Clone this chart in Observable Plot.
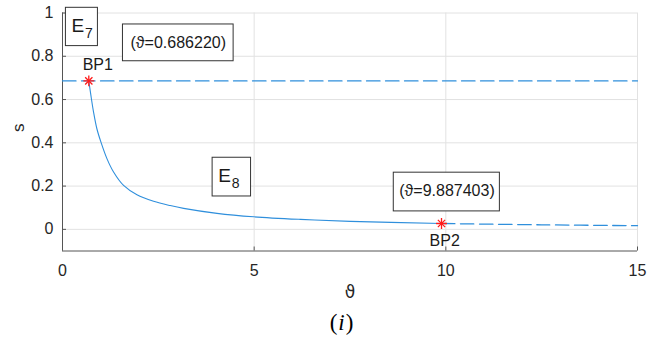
<!DOCTYPE html>
<html>
<head>
<meta charset="utf-8">
<script src="https://cdn.jsdelivr.net/npm/d3@7"></script>
<script src="https://cdn.jsdelivr.net/npm/@observablehq/plot@0.6"></script>
<style>
  body { margin: 0; background: #fff; }
  #wrap { position: relative; width: 654px; height: 349px; overflow: hidden; }
  #cap { position: absolute; left: 0; top: 310px; width: 684px; text-align: center;
         font: 23px "Liberation Serif", "DejaVu Serif", serif; letter-spacing: 1px; color: #000; }
</style>
</head>
<body>
<div id="wrap"><div id="chart"></div><div id="cap">(<i>i</i>)</div></div>
<script>
// ---- data ----
const xDomain = [0, 15];
const yDomain = [-0.1, 1];
const xTicks = [0, 5, 10, 15];
const yTicks = [0, 0.2, 0.4, 0.6, 0.8, 1];

// branch (solid) from BP1 to BP2
const solidTheta = [0.68622, 0.741, 0.810, 0.897, 1.003, 1.159, 1.332, 1.593, 1.942, 2.376, 2.81, 3.16, 4.03, 4.99, 6.21, 7.51, 9.887403];
const solidS     = [0.68622, 0.619, 0.542, 0.465, 0.403, 0.327, 0.265, 0.203, 0.160, 0.130, 0.110, 0.097, 0.074, 0.058, 0.046, 0.037, 0.027];
// continuation after BP2 (dashed)
const dashTheta = [9.887403, 12.5, 15];
const dashS     = [0.027, 0.021, 0.017];
// horizontal dashed branch
const flatTheta = [0, 15];
const flatS     = [0.68622, 0.68622];

// bifurcation points
const bpNames = ["BP1", "BP2"];
const bpTheta = [0.68622, 9.887403];
const bpS     = [0.68622, 0.027];

// annotation labels
const eqNames = ["E", "E"];
const eqSubs  = ["7", "8"];
const valueLabels = ["(ϑ=0.686220)", "(ϑ=9.887403)"];

// annotation placement (data units)
const eqBox = {x1: [0.089, 3.916], x2: [0.924, 4.919], y1: [0.847, 0.152], y2: [1.024, 0.331]};
const eqPos = {x: [0.40, 4.23], y: [0.942, 0.249]};
const valBox = {x1: [1.577, 8.642], x2: [4.464, 11.41], y1: [0.777, 0.083], y2: [0.947, 0.262]};
const valPos = {x: [3.02, 10.03], y: [0.862, 0.176]};
const bpLabelPos = {x: [0.92, 9.97], y: [0.762, -0.052]};

const idx2 = [0, 1];
const blue = "#2f8fdc";
const red = "#ff1a1a";
const font = "'Liberation Sans', Arial, 'DejaVu Sans', sans-serif";
const indexOf = arr => arr.map((d, i) => i);

const chart = Plot.plot({
  width: 654,
  height: 306,
  marginLeft: 62,
  marginRight: 17,
  marginTop: 12.5,
  marginBottom: 55.5,
  style: {fontFamily: font, fontSize: "16px", color: "#262626", background: "white", overflow: "visible"},
  x: {domain: xDomain},
  y: {domain: yDomain},
  marks: [
    Plot.gridX(xTicks, {stroke: "#e2e2e2", strokeOpacity: 1}),
    Plot.gridY(yTicks, {stroke: "#e2e2e2", strokeOpacity: 1}),
    Plot.ruleX([xDomain[0]], {stroke: "#555", strokeWidth: 1}),
    Plot.ruleY([yDomain[0]], {stroke: "#555", strokeWidth: 1}),
    Plot.axisY({ticks: yTicks, tickSize: 0, tickPadding: 9, tickFormat: d => String(d), label: null, fontSize: 16}),
    Plot.axisY({ticks: yTicks, tickSize: -4, tickFormat: () => "", label: null, stroke: "#555"}),
    Plot.axisX({ticks: xTicks, tickSize: 0, tickPadding: 13.5, tickFormat: d => String(d), label: null, fontSize: 16}),
    Plot.axisX({ticks: xTicks, tickSize: -4, tickFormat: () => "", label: null, stroke: "#555"}),
    Plot.text(["s"], {frameAnchor: "left", dx: -44, rotate: -90, fontSize: 17, fill: "#262626"}),
    Plot.text(["ϑ"], {frameAnchor: "bottom", dy: 46.5, fontSize: 17, fill: "#262626", fontFamily: "'DejaVu Sans', sans-serif"}),
    // curves
    Plot.line(indexOf(flatTheta), {x: flatTheta, y: flatS, stroke: blue, strokeWidth: 1.3, strokeDasharray: "13.5,5.5"}),
    Plot.line(indexOf(dashTheta), {x: dashTheta, y: dashS, stroke: blue, strokeWidth: 1.3, strokeDasharray: "13.5,5.5", curve: "catmull-rom"}),
    Plot.line(indexOf(solidTheta), {x: solidTheta, y: solidS, stroke: blue, strokeWidth: 1.1, curve: "catmull-rom"}),
    // annotation boxes
    Plot.rect(idx2, {x1: eqBox.x1, x2: eqBox.x2, y1: eqBox.y1, y2: eqBox.y2, fill: "white", stroke: "#333", strokeWidth: 1}),
    Plot.rect(idx2, {x1: valBox.x1, x2: valBox.x2, y1: valBox.y1, y2: valBox.y2, fill: "white", stroke: "#333", strokeWidth: 1}),
    Plot.text(idx2, {x: eqPos.x, y: eqPos.y, text: eqNames, fontSize: 19, fill: "#1a1a1a"}),
    Plot.text(idx2, {x: eqPos.x, y: eqPos.y, text: eqSubs, dx: 11, dy: 8, fontSize: 14, fill: "#1a1a1a"}),
    Plot.text(idx2, {x: valPos.x, y: valPos.y, text: valueLabels, fontSize: 16, fill: "#1a1a1a"}),
    Plot.text(idx2, {x: bpLabelPos.x, y: bpLabelPos.y, text: bpNames, fontSize: 16, fill: "#1a1a1a"}),
    // star markers
    Plot.dot(idx2, {x: bpTheta, y: bpS, symbol: "plus", r: 3.6, stroke: red, strokeWidth: 1.3}),
    Plot.dot(idx2, {x: bpTheta, y: bpS, symbol: "times", r: 3.4, stroke: red, strokeWidth: 1.3})
  ]
});
document.getElementById("chart").appendChild(chart);
</script>
</body>
</html>
